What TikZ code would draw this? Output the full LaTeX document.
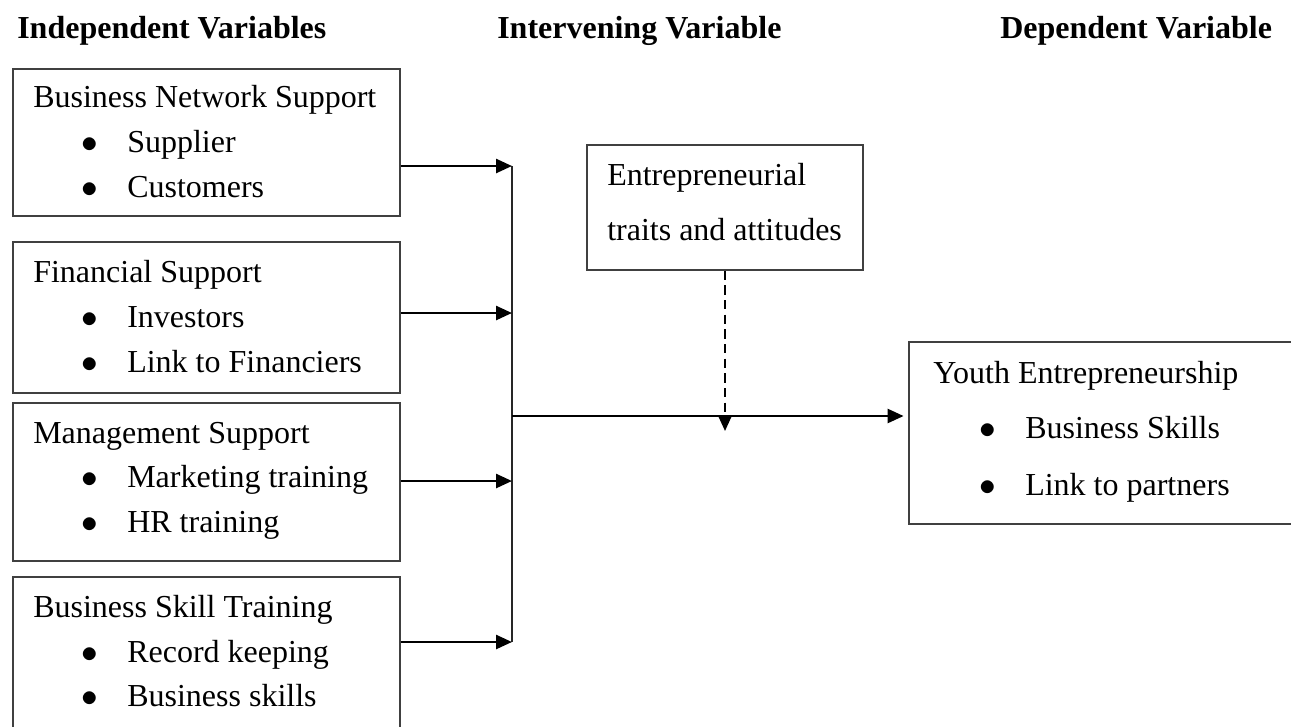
\documentclass[tikz,border=0pt]{standalone}
\usepackage{fontspec}
\setmainfont{Liberation Serif}
\usetikzlibrary{arrows.meta,fit}

\newcommand{\bitem}[1]{\makebox[34.5pt][l]{$\bullet$}#1}

\tikzset{
  varbox/.style={draw=black!75, line width=1.1pt, inner sep=0pt},
  boxline/.style={anchor=base west, inner sep=0pt, font=\fontsize{24}{29}\selectfont},
  heading/.style={anchor=base west, inner sep=0pt, font=\fontsize{24}{29}\selectfont\bfseries},
  flow/.style={line width=1.9pt, -{Triangle[length=12pt,width=10.5pt]}},
  dashflow/.style={line width=1.6pt, dash pattern=on 7pt off 4pt, -{Triangle[length=12pt,width=10.5pt]}},
  busline/.style={line width=1.1pt, draw=black!85}
}

\begin{document}
\begin{tikzpicture}[x=0.75pt, y=-0.75pt]
  \useasboundingbox (0,0) rectangle (1291,726);

  %column headings
  \node[heading] (indep) at (17,38) {Independent Variables};
  \node[heading] (interv) at (497,38) {Intervening Variable};
  \node[heading] (dep) at (1000,38) {Dependent Variable};

  %independent variables
  \node[varbox, fit={(13,69) (400,216)}] (netbox) {};
  \node[boxline] (net0) at (33,107) {Business Network Support};
  \node[boxline] (net1) at (81,152) {\bitem{Supplier}};
  \node[boxline] (net2) at (81,197) {\bitem{Customers}};

  \node[varbox, fit={(13,242) (400,393)}] (finbox) {};
  \node[boxline] (fin0) at (33,282) {Financial Support};
  \node[boxline] (fin1) at (81,327) {\bitem{Investors}};
  \node[boxline] (fin2) at (81,372) {\bitem{Link to Financiers}};

  \node[varbox, fit={(13,403) (400,561)}] (mgtbox) {};
  \node[boxline] (mgt0) at (33,443) {Management Support};
  \node[boxline] (mgt1) at (81,487) {\bitem{Marketing training}};
  \node[boxline] (mgt2) at (81,532) {\bitem{HR training}};

  \node[varbox, fit={(13,577) (400,750)}] (skillbox) {};
  \node[boxline] (skill0) at (33,617) {Business Skill Training};
  \node[boxline] (skill1) at (81,662) {\bitem{Record keeping}};
  \node[boxline] (skill2) at (81,706) {\bitem{Business skills}};

  %intervening variable
  \node[varbox, fit={(587,145) (863,270)}] (traitbox) {};
  \node[boxline] (trait0) at (607,185) {Entrepreneurial};
  \node[boxline] (trait1) at (607,240) {traits and attitudes};

  %dependent variable
  \node[varbox, fit={(909,342) (1300,524)}] (youthbox) {};
  \node[boxline] (youth0) at (933,383) {Youth Entrepreneurship};
  \node[boxline] (youth1) at (979,438) {\bitem{Business Skills}};
  \node[boxline] (youth2) at (979,495) {\bitem{Link to partners}};

  %junctions on the bus
  \coordinate (j1) at (512,166);
  \coordinate (j2) at (512,313);
  \coordinate (j3) at (512,481);
  \coordinate (j4) at (512,642);
  \coordinate (jm) at (512,416);
  \coordinate (dtip) at (725,431);

  \draw[busline] (j1) -- (j4);
  \draw[flow] (netbox.east |- j1) -- (j1);
  \draw[flow] (finbox.east |- j2) -- (j2);
  \draw[flow] (mgtbox.east |- j3) -- (j3);
  \draw[flow] (skillbox.east |- j4) -- (j4);
  \draw[flow, shorten >=3.5pt] (jm) -- (youthbox.west |- jm);
  \draw[dashflow] (traitbox.south) -- (dtip);
\end{tikzpicture}
\end{document}
